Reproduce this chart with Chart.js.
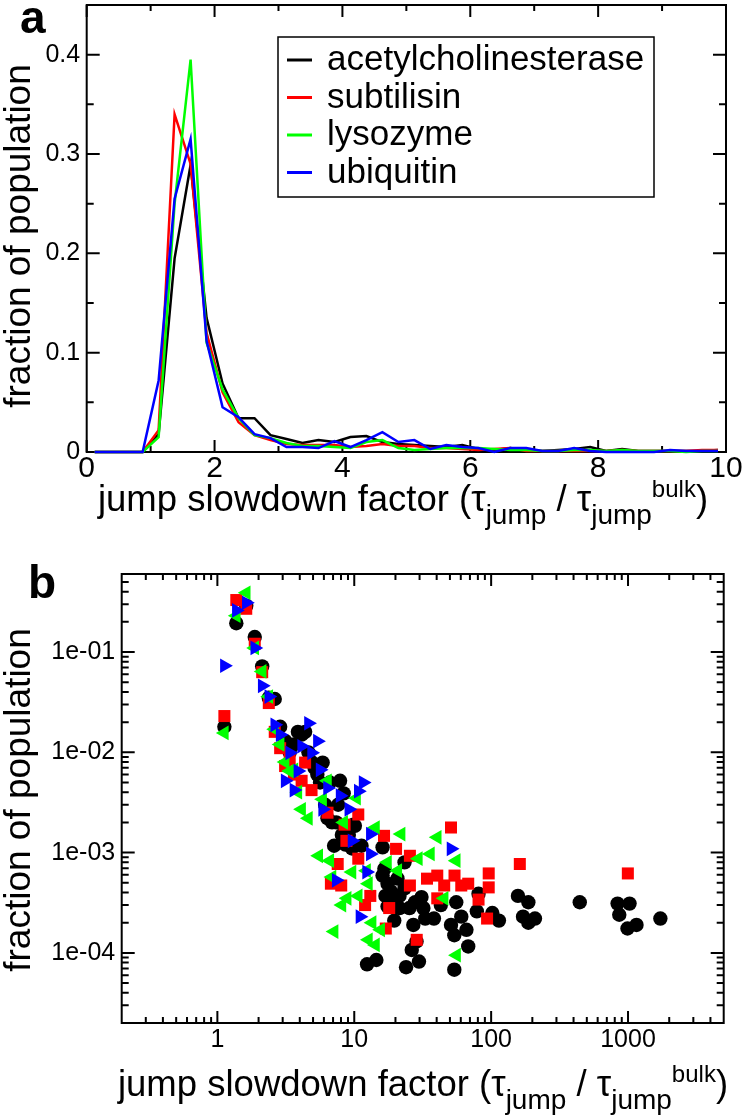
<!DOCTYPE html>
<html>
<head>
<meta charset="utf-8">
<script src="https://cdn.jsdelivr.net/npm/chart.js@4.4.0/dist/chart.umd.min.js"></script>
<style>
  html, body { margin: 0; padding: 0; background: #fff; }
  #wrap { position: relative; width: 743px; height: 1119px; overflow: hidden; }
  #cha { position: absolute; left: 0; top: 0; }
  #chb { position: absolute; left: 0; top: 540px; }
</style>
</head>
<body>
<div id="wrap">
  <canvas id="cha" width="743" height="540"></canvas>
  <canvas id="chb" width="743" height="579"></canvas>
</div>
<script>
// ---- data ----
const names = ["acetylcholinesterase", "subtilisin", "lysozyme", "ubiquitin"];
const colors = ["#000000", "#ff0000", "#00ff00", "#0000ff"];

// panel a: histogram bins (jump slowdown factor) and fraction of population
const binCenters = [0.125, 0.375, 0.625, 0.875, 1.125, 1.375, 1.625, 1.875, 2.125, 2.375,
  2.625, 2.875, 3.125, 3.375, 3.625, 3.875, 4.125, 4.375, 4.625, 4.875,
  5.125, 5.375, 5.625, 5.875, 6.125, 6.375, 6.625, 6.875, 7.125, 7.375,
  7.625, 7.875, 8.125, 8.375, 8.625, 8.875, 9.125, 9.375, 9.625, 9.875];
const aceA = [0, 0, 0, 0, 0.018, 0.195, 0.289, 0.135, 0.069, 0.034,
  0.034, 0.017, 0.013, 0.009, 0.012, 0.010, 0.015, 0.016, 0.010, 0.008,
  0.007, 0.006, 0.005, 0.007, 0.003, 0.002, 0.004, 0.002, 0.001, 0.002,
  0.003, 0.005, 0.001, 0.003, 0.001, 0.001, 0.001, 0.001, 0.001, 0.002];
const subA = [0, 0, 0, 0, 0.022, 0.34, 0.29, 0.12, 0.06, 0.03,
  0.017, 0.012, 0.008, 0.007, 0.007, 0.007, 0.005, 0.006, 0.008, 0.006,
  0.006, 0.004, 0.004, 0.003, 0.002, 0.003, 0.004, 0.001, 0.001, 0.001,
  0.001, 0.001, 0.001, 0.002, 0.001, 0.001, 0.001, 0.001, 0.002, 0.002];
const lysA = [0, 0, 0, 0, 0.015, 0.25, 0.395, 0.11, 0.063, 0.034,
  0.017, 0.014, 0.009, 0.006, 0.006, 0.005, 0.004, 0.010, 0.012, 0.004,
  0.002, 0.003, 0.004, 0.004, 0.004, 0.003, 0.002, 0.002, 0.001, 0.001,
  0.002, 0.002, 0.001, 0.002, 0.001, 0.001, 0.001, 0, 0.001, 0.001];
const ubiA = [0, 0, 0, 0, 0.072, 0.255, 0.315, 0.112, 0.045, 0.035,
  0.018, 0.014, 0.005, 0.005, 0.004, 0.011, 0.005, 0.012, 0.020, 0.010,
  0.012, 0.003, 0.007, 0.005, 0.004, 0, 0.004, 0.004, 0.001, 0.001,
  0.004, 0.001, 0, 0, 0, 0, 0.002, 0.001, 0.001, 0.001];

// panel b: log-log scatter
const aceBx = [1.125, 1.375, 1.625, 1.875, 2.125, 2.375, 2.625, 2.875, 3.125, 3.375,
  3.625, 3.875, 4.125, 4.375, 4.625, 4.875, 5.125, 5.375, 5.625, 5.875,
  6.125, 6.375, 6.625, 6.875, 7.125, 7.375, 7.625, 7.875, 8.125, 8.375,
  8.625, 9.125, 9.625, 9.875, 10.1, 11.3, 12.4, 14.5, 16.1, 16.1,
  16.6, 16.9, 17.5, 17.5, 18.5, 19.6, 19.6, 20.7, 21.4, 21.4,
  23.3, 23.3, 23.9, 25.3, 26.3, 27, 27.8, 28.5, 29.7, 31,
  32, 33, 38.2, 42.9, 50.9, 53.8, 53.8, 55.6, 60.5, 66,
  68, 78.6, 80.9, 102, 114, 157, 171, 187, 187, 209,
  444, 839, 863, 991, 1026, 1153, 1723];
const aceBy = [0.018, 0.194, 0.29, 0.141, 0.072, 0.035, 0.034, 0.018, 0.013, 0.010,
  0.012, 0.016, 0.015, 0.016, 0.010, 0.008, 0.007, 0.006, 0.005, 0.0079,
  0.003, 0.0022, 0.005, 0.002, 0.00117, 0.002, 0.003, 0.0052, 0.0015, 0.0039,
  0.0012, 0.0015, 0.0011, 0.0019, 0.00185, 0.00117, 0.000077, 0.000085, 0.00113, 0.00059,
  0.00069, 0.00037, 0.00049, 0.00029, 0.00041, 0.00032, 0.00021, 0.00055, 0.00037, 0.00028,
  0.0008, 0.00044, 0.000072, 0.00028, 0.000107, 0.00019, 0.00032, 0.00013, 0.000082, 0.00036,
  0.00028, 0.00022, 0.00022, 0.0003, 0.00019, 0.00015, 0.000068, 0.00032, 0.00023, 0.00017,
  0.000116, 0.00026, 0.00039, 0.00025, 0.00021, 0.00037, 0.00023, 0.00032, 0.0002, 0.00022,
  0.00032, 0.00031, 0.00024, 0.000175, 0.00031, 0.00019, 0.00022];

const subBx = [1.125, 1.375, 1.625, 1.875, 2.125, 2.375, 2.625, 2.875, 3.125, 3.375,
  3.625, 4.125, 4.375, 4.875, 6.375, 6.75, 7.57, 8.03, 8.5, 8.76,
  10.7, 10.7, 12, 13.1, 16.5, 17, 18, 20.2, 25.5, 25.5,
  28.6, 34, 40.4, 40.4, 45.4, 50.9, 54, 60.5, 68, 80.9,
  93.4, 96, 96, 162, 997];
const subBy = [0.023, 0.33, 0.27, 0.121, 0.063, 0.031, 0.016, 0.011, 0.0073, 0.0085,
  0.006, 0.0052, 0.0079, 0.0042, 0.0025, 0.00049, 0.00077, 0.00047, 0.0019, 0.00131,
  0.0024, 0.00087, 0.0003, 0.00037, 0.00147, 0.000175, 0.00028, 0.00109, 0.00093, 0.00047,
  0.000135, 0.00055, 0.00059, 0.00035, 0.00047, 0.00178, 0.00059, 0.00047, 0.00049, 0.00034,
  0.00022, 0.00062, 0.00045, 0.00077, 0.00062];

const lysBx = [1.125, 1.375, 1.625, 1.875, 2.125, 2.375, 2.625, 2.875, 3.125, 3.375,
  3.625, 3.875, 4.125, 4.625, 5.5, 5.875, 6.375, 6.625, 6.875, 7.125,
  8.125, 8.375, 8.875, 9.625, 10.4, 10.7, 12.3, 12.7, 12.7, 13.5,
  14.3, 14.3, 15.6, 17.5, 20.8, 22, 29.4, 36, 40.4, 45.4,
  55.6, 55.9];
const lysBy = [0.0156, 0.23, 0.39, 0.11, 0.064, 0.036, 0.017, 0.012, 0.008, 0.0065,
  0.0067, 0.004, 0.0027, 0.0022, 0.00093, 0.0034, 0.0052, 0.00083, 0.00057, 0.000163,
  0.0003, 0.002, 0.00035, 0.00064, 0.0035, 0.00037, 0.00066, 0.00049, 0.000135, 0.0002,
  0.00178, 0.00012, 0.00017, 0.0008, 0.00066, 0.00153, 0.00087, 0.00097, 0.00142, 0.00035,
  0.00083, 0.000095];

const ubiBx = [1.125, 1.375, 1.625, 1.875, 2.125, 2.375, 2.625, 2.875, 3.125, 3.375,
  3.625, 3.875, 4.125, 4.625, 4.875, 5.375, 5.625, 5.875, 6.375, 7.375,
  7.875, 9.125, 9.625, 10.7, 11, 11.6, 12.3, 13.1, 13.1, 50.9];
const ubiBy = [0.073, 0.26, 0.31, 0.11, 0.046, 0.036, 0.0188, 0.015, 0.0052, 0.0099,
  0.0042, 0.0065, 0.0115, 0.0195, 0.0099, 0.0129, 0.0067, 0.0027, 0.0044, 0.00053,
  0.0037, 0.0027, 0.00131, 0.0041, 0.00023, 0.005, 0.00064, 0.00153, 0.00097, 0.00109];

// ticks
const aXTicks = [0, 2, 4, 6, 8, 10];
const aXLabels = ["0", "2", "4", "6", "8", "10"];
const aXMinor = [1, 3, 5, 7, 9];
const aYTicks = [0, 0.1, 0.2, 0.3, 0.4];
const aYLabels = ["0", "0.1", "0.2", "0.3", "0.4"];
const aYMinor = [0.05, 0.15, 0.25, 0.35];

const bXTicks = [1, 10, 100, 1000];
const bXLabels = ["1", "10", "100", "1000"];
const bXMinor = [0.3, 0.4, 0.5, 0.6, 0.7, 0.8, 0.9, 2, 3, 4, 5, 6, 7, 8, 9,
  20, 30, 40, 50, 60, 70, 80, 90, 200, 300, 400, 500, 600, 700, 800, 900, 2000, 3000, 4000];
const bYTicks = [1e-4, 1e-3, 1e-2, 1e-1];
const bYLabels = ["1e-04", "1e-03", "1e-02", "1e-01"];
const bYMinor = [3e-5, 4e-5, 5e-5, 6e-5, 7e-5, 8e-5, 9e-5,
  2e-4, 3e-4, 4e-4, 5e-4, 6e-4, 7e-4, 8e-4, 9e-4,
  2e-3, 3e-3, 4e-3, 5e-3, 6e-3, 7e-3, 8e-3, 9e-3,
  2e-2, 3e-2, 4e-2, 5e-2, 6e-2, 7e-2, 8e-2, 9e-2, 0.2, 0.3, 0.4, 0.5];

const FONT = '"Liberation Sans", Arimo, Helvetica, Arial, sans-serif';

// ---- drawing helpers ----
function frameAndTicks(opt) {
  return {
    id: 'frameTicks',
    beforeDatasetsDraw(chart) {
      const ctx = chart.ctx, a = chart.chartArea;
      const x = chart.scales.x, y = chart.scales.y;
      ctx.save();
      ctx.strokeStyle = '#000';
      ctx.lineWidth = 2;
      ctx.beginPath();
      const tx = (list, len) => list.forEach(v => {
        const p = x.getPixelForValue(v);
        ctx.moveTo(p, a.bottom); ctx.lineTo(p, a.bottom - len);
        ctx.moveTo(p, a.top); ctx.lineTo(p, a.top + len);
      });
      const ty = (list, len) => list.forEach(v => {
        const p = y.getPixelForValue(v);
        ctx.moveTo(a.left, p); ctx.lineTo(a.left + len, p);
        ctx.moveTo(a.right, p); ctx.lineTo(a.right - len, p);
      });
      tx(opt.xMajor, 12); tx(opt.xMinor, 6);
      ty(opt.yMajor, 13); ty(opt.yMinor, 7);
      ctx.stroke();
      ctx.strokeRect(a.left, a.top, a.right - a.left, a.bottom - a.top);
      ctx.restore();
    },
    afterDraw(chart) { opt.extra(chart); }
  };
}

// keep the plot frame where it is in the figure
function pinY(w) {
  return s => { s.width = w; s.paddingTop = 0; s.paddingBottom = 0; };
}
function pinX(h) {
  return s => { s.height = h; s.paddingLeft = 0; s.paddingRight = 0; };
}

function drawXTitle(ctx, cx, base) {
  const parts = [
    { t: 'jump slowdown factor (', s: 36.5, dy: 0 },
    { t: '\u03c4', s: 36.5, dy: 0 },
    { t: 'jump', s: 28, dy: 13 },
    { t: ' / ', s: 36.5, dy: 0 },
    { t: '\u03c4', s: 36.5, dy: 0 },
    { t: 'jump', s: 28, dy: 13 },
    { t: 'bulk', s: 24, dy: -14 },
    { t: ')', s: 36.5, dy: 0 }
  ];
  ctx.save();
  ctx.fillStyle = '#000';
  ctx.textBaseline = 'alphabetic';
  ctx.textAlign = 'left';
  let total = 0;
  parts.forEach(p => { ctx.font = p.s + 'px ' + FONT; p.w = ctx.measureText(p.t).width; total += p.w; });
  let xx = cx - total / 2;
  parts.forEach(p => { ctx.font = p.s + 'px ' + FONT; ctx.fillText(p.t, xx, base + p.dy); xx += p.w; });
  ctx.restore();
}

function drawYTitle(ctx, x, cy) {
  ctx.save();
  ctx.translate(x, cy);
  ctx.rotate(-Math.PI / 2);
  ctx.fillStyle = '#000';
  ctx.font = '37px ' + FONT;
  ctx.textAlign = 'center';
  ctx.textBaseline = 'alphabetic';
  ctx.fillText('fraction of population', 0, 0);
  ctx.restore();
}

function drawLetter(ctx, t, x, base) {
  ctx.save();
  ctx.fillStyle = '#000';
  ctx.font = 'bold 46px ' + FONT;
  ctx.textAlign = 'left';
  ctx.textBaseline = 'alphabetic';
  ctx.fillText(t, x, base);
  ctx.restore();
}

function drawLegend(ctx) {
  ctx.save();
  ctx.strokeStyle = '#000';
  ctx.lineWidth = 1.5;
  ctx.strokeRect(278, 37, 376, 160);
  ctx.font = '35px ' + FONT;
  ctx.textAlign = 'left';
  ctx.textBaseline = 'alphabetic';
  names.forEach((n, i) => {
    const ly = 60 + i * 37.5;
    ctx.strokeStyle = colors[i];
    ctx.lineWidth = 3;
    ctx.beginPath(); ctx.moveTo(287, ly); ctx.lineTo(312, ly); ctx.stroke();
    ctx.fillStyle = '#000';
    ctx.fillText(n, 327, ly + 10);
  });
  ctx.restore();
}

Chart.defaults.font.family = FONT;
Chart.defaults.color = '#000';

// ---- panel a ----
const seriesA = [aceA, subA, lysA, ubiA];
new Chart(document.getElementById('cha'), {
  type: 'line',
  data: {
    datasets: seriesA.map((arr, i) => ({
      label: names[i],
      data: binCenters.map((x, k) => ({ x: x, y: arr[k] })),
      borderColor: colors[i],
      borderWidth: 2.5,
      pointRadius: 0,
      tension: 0,
      fill: false,
      clip: false,
      order: 4 - i
    }))
  },
  options: {
    responsive: false,
    animation: false,
    devicePixelRatio: 1,
    events: [],
    layout: { padding: { left: 0, right: 17, top: 5, bottom: 0 } },
    plugins: { legend: { display: false }, tooltip: { enabled: false } },
    scales: {
      x: {
        type: 'linear', min: 0, max: 10,
        grid: { display: false, drawTicks: false },
        border: { display: false },
        afterBuildTicks: s => { s.ticks = aXTicks.map(v => ({ value: v })); },
        afterFit: pinX(88),
        ticks: {
          padding: 2, maxRotation: 0, autoSkip: false,
          font: { size: 30, lineHeight: 1 },
          callback: (v, i) => aXLabels[i]
        }
      },
      y: {
        type: 'linear', min: 0, max: 0.45,
        grid: { display: false, drawTicks: false },
        border: { display: false },
        afterBuildTicks: s => { s.ticks = aYTicks.map(v => ({ value: v })); },
        afterFit: pinY(86.7),
        ticks: {
          padding: 6.5, autoSkip: false,
          font: { size: 25, lineHeight: 1 },
          callback: (v, i) => aYLabels[i]
        }
      }
    }
  },
  plugins: [frameAndTicks({
    xMajor: aXTicks, xMinor: aXMinor, yMajor: aYTicks, yMinor: aYMinor,
    extra: chart => {
      const ctx = chart.ctx;
      drawLegend(ctx);
      drawXTitle(ctx, 403, 511);
      drawYTitle(ctx, 30, 236);
      drawLetter(ctx, 'a', 20, 33);
    }
  })]
});

// ---- panel b ----
const seriesB = [[aceBx, aceBy], [subBx, subBy], [lysBx, lysBy], [ubiBx, ubiBy]];
const markerStyle = ['circle', 'rect', 'triangle', 'triangle'];
const markerRadius = [7.2, 8.5, 8.5, 8.5];
const markerRotation = [0, 0, -90, 90];
new Chart(document.getElementById('chb'), {
  type: 'scatter',
  data: {
    datasets: seriesB.map((s, i) => ({
      label: names[i],
      data: s[0].map((x, k) => ({ x: x, y: s[1][k] })),
      backgroundColor: colors[i],
      borderColor: colors[i],
      borderWidth: 0,
      pointStyle: markerStyle[i],
      pointRadius: markerRadius[i],
      rotation: markerRotation[i],
      clip: false,
      order: 4 - i
    }))
  },
  options: {
    responsive: false,
    animation: false,
    devicePixelRatio: 1,
    events: [],
    layout: { padding: { left: 0, right: 19.3, top: 34, bottom: 0 } },
    plugins: { legend: { display: false }, tooltip: { enabled: false } },
    scales: {
      x: {
        type: 'logarithmic', min: 0.2, max: 5000,
        grid: { display: false, drawTicks: false },
        border: { display: false },
        afterBuildTicks: s => { s.ticks = bXTicks.map(v => ({ value: v })); },
        afterFit: pinX(96),
        ticks: {
          padding: 5, maxRotation: 0, autoSkip: false,
          font: { size: 25, lineHeight: 1 },
          callback: (v, i) => bXLabels[i]
        }
      },
      y: {
        type: 'logarithmic', min: 2e-5, max: 0.6,
        grid: { display: false, drawTicks: false },
        border: { display: false },
        afterBuildTicks: s => { s.ticks = bYTicks.map(v => ({ value: v })); },
        afterFit: pinY(121.7),
        ticks: {
          padding: 6.5, autoSkip: false,
          font: { size: 25, lineHeight: 1 },
          callback: (v, i) => bYLabels[i]
        }
      }
    }
  },
  plugins: [frameAndTicks({
    xMajor: bXTicks, xMinor: bXMinor, yMajor: bYTicks, yMinor: bYMinor,
    extra: chart => {
      const ctx = chart.ctx;
      drawXTitle(ctx, 423, 556);
      drawYTitle(ctx, 30, 260);
      drawLetter(ctx, 'b', 28, 58);
    }
  })]
});
</script>
</body>
</html>
